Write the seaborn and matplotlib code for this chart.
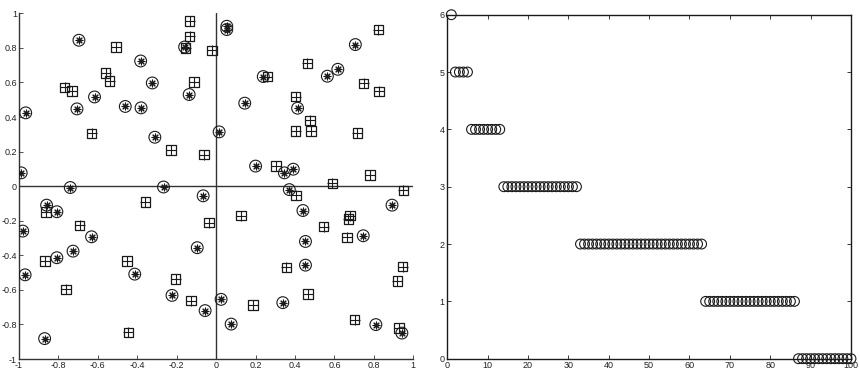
import matplotlib
matplotlib.use("Agg")
import matplotlib.pyplot as plt
import seaborn as sns
import numpy as np

# ---------------- data ----------------
# left panel: circled-asterisk points
circ_x = [-0.966, -0.696, -0.989, -0.706, -0.617, -0.461, -0.383, -0.381, -0.324, -0.311,
          -0.160, -0.137, 0.015, -0.740, -0.267, 0.054, 0.054, 0.239, 0.145, 0.706,
          0.617, 0.564, 0.413, 0.200, 0.346, 0.391, 0.371, -0.066, -0.860, -0.808,
          -0.981, -0.632, -0.726, -0.808, -0.969, -0.413, -0.096, -0.224, -0.056, -0.870,
          0.025, 0.440, 0.892, 0.746, 0.453, 0.453, 0.338, 0.076, 0.810, 0.942]
circ_y = [0.424, 0.844, 0.077, 0.447, 0.516, 0.461, 0.724, 0.453, 0.597, 0.283,
          0.805, 0.530, 0.314, -0.008, -0.005, 0.925, 0.906, 0.634, 0.480, 0.819,
          0.676, 0.636, 0.451, 0.116, 0.077, 0.098, -0.020, -0.056, -0.110, -0.148,
          -0.260, -0.293, -0.376, -0.414, -0.513, -0.509, -0.356, -0.632, -0.720, -0.882,
          -0.655, -0.141, -0.110, -0.287, -0.320, -0.457, -0.674, -0.798, -0.801, -0.850]

# left panel: squared-plus points
sq_x = [-0.135, -0.135, -0.507, -0.155, -0.021, -0.560, -0.540, -0.112, -0.768, -0.731,
        -0.632, -0.229, -0.062, 0.260, 0.463, 0.822, 0.748, 0.827, 0.403, 0.475,
        0.403, 0.481, 0.716, 0.304, 0.780, 0.590, 0.950, -0.863, -0.359, -0.692,
        -0.036, -0.868, -0.453, -0.761, -0.205, -0.127, -0.445, 0.406, 0.127, 0.679,
        0.671, 0.545, 0.663, 0.356, 0.946, 0.919, 0.465, 0.187, 0.703, 0.927]
sq_y = [0.956, 0.867, 0.805, 0.800, 0.786, 0.655, 0.609, 0.603, 0.572, 0.551,
        0.305, 0.210, 0.183, 0.634, 0.711, 0.906, 0.594, 0.549, 0.518, 0.380,
        0.318, 0.318, 0.308, 0.117, 0.065, 0.016, -0.025, -0.150, -0.092, -0.227,
        -0.212, -0.434, -0.434, -0.597, -0.538, -0.663, -0.846, -0.054, -0.171, -0.170,
        -0.189, -0.235, -0.297, -0.470, -0.466, -0.549, -0.624, -0.688, -0.773, -0.821]

# right panel: values for index 1..100
idx = list(range(1, 101))
vals = [6,
        5, 5, 5, 5,
        4, 4, 4, 4, 4, 4, 4, 4,
        3, 3, 3, 3, 3, 3, 3, 3, 3, 3, 3, 3, 3, 3, 3, 3, 3, 3, 3,
        2, 2, 2, 2, 2, 2, 2, 2, 2, 2, 2, 2, 2, 2, 2, 2, 2, 2, 2, 2, 2, 2, 2, 2, 2, 2, 2, 2, 2, 2, 2,
        1, 1, 1, 1, 1, 1, 1, 1, 1, 1, 1, 1, 1, 1, 1, 1, 1, 1, 1, 1, 1, 1, 1,
        0, 0, 0, 0, 0, 0, 0, 0, 0, 0, 0, 0, 0, 0]

left_ticks = [-1, -0.8, -0.6, -0.4, -0.2, 0, 0.2, 0.4, 0.6, 0.8, 1]
left_ticklabels = ["-1", "-0.8", "-0.6", "-0.4", "-0.2", "0", "0.2", "0.4", "0.6", "0.8", "1"]
right_xticks = [0, 10, 20, 30, 40, 50, 60, 70, 80, 90, 100]
right_yticks = [0, 1, 2, 3, 4, 5, 6]

# ---------------- style ----------------
sns.set_theme(style="white")
plt.rcParams["font.family"] = ["Liberation Sans", "DejaVu Sans"]
plt.rcParams["axes.unicode_minus"] = False

fig = plt.figure(figsize=(8.6, 3.84), dpi=100)
axL = fig.add_axes([0.0221, 0.0651, 0.4585, 0.9003])
axR = fig.add_axes([0.5201, 0.0659, 0.4694, 0.8958])

line_col = "#333333"
txt_col = "#222222"

# ---------------- left panel ----------------
axL.axhline(0, color=line_col, lw=1.0, zorder=1)
axL.axvline(0, color=line_col, lw=1.0, zorder=1)

sns.scatterplot(x=circ_x, y=circ_y, ax=axL, marker="o", s=72, color="k",
                facecolor="none", edgecolor="k", linewidth=0.8, zorder=3)
sns.scatterplot(x=circ_x, y=circ_y, ax=axL, marker=(8, 2, 0), s=24, color="k",
                linewidth=0.8, zorder=3)
sns.scatterplot(x=sq_x, y=sq_y, ax=axL, marker="s", s=46, color="k",
                facecolor="none", edgecolor="k", linewidth=0.9, zorder=3)
sns.scatterplot(x=sq_x, y=sq_y, ax=axL, marker="+", s=46, color="k",
                linewidth=0.8, zorder=3)

axL.set_xlim(-1, 1)
axL.set_ylim(-1, 1)
axL.set_xticks(left_ticks)
axL.set_xticklabels(left_ticklabels)
axL.set_yticks(left_ticks)
axL.set_yticklabels(left_ticklabels)
for side in ["top", "right"]:
    axL.spines[side].set_visible(False)
for side in ["left", "bottom"]:
    axL.spines[side].set_color(line_col)
    axL.spines[side].set_linewidth(1.0)
axL.tick_params(direction="in", length=3, width=0.6, colors=line_col,
                labelsize=6.5, labelcolor=txt_col, pad=1.5,
                bottom=True, left=True)
axL.set_xlabel("")
axL.set_ylabel("")

# ---------------- right panel ----------------
sns.scatterplot(x=idx, y=vals, ax=axR, marker="o", s=50, color="k",
                facecolor="none", edgecolor="k", linewidth=0.8, zorder=3,
                clip_on=False)
axR.set_xlim(0, 100)
axR.set_ylim(0, 6)
axR.set_xticks(right_xticks)
axR.set_yticks(right_yticks)
for side in ["top", "right", "left", "bottom"]:
    axR.spines[side].set_visible(True)
    axR.spines[side].set_color("k")
    axR.spines[side].set_linewidth(1.0)
axR.tick_params(direction="in", length=3, width=0.6, colors="k",
                labelsize=6.5, labelcolor=txt_col, pad=2,
                bottom=True, left=True, top=True, right=True)
axR.set_xlabel("")
axR.set_ylabel("")

fig.savefig("out.png", dpi=100)
